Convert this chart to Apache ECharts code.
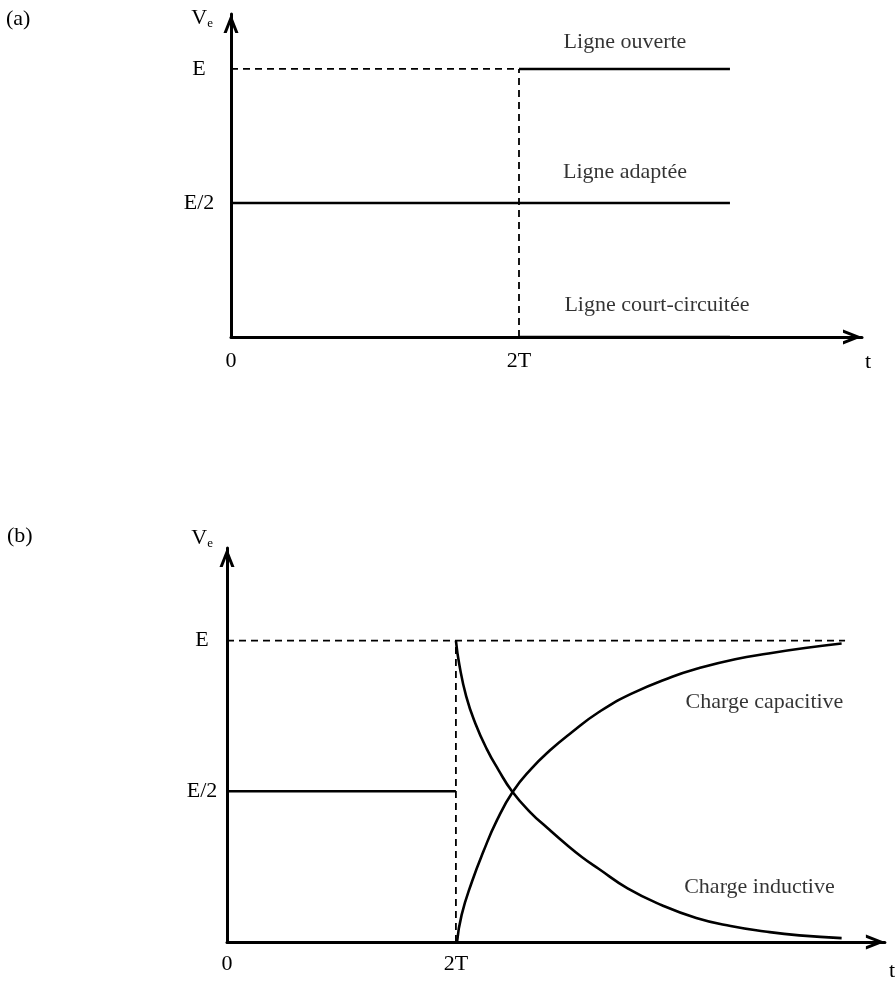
<!DOCTYPE html>
<html><head><meta charset="utf-8">
<script src="https://cdn.jsdelivr.net/npm/echarts@6/dist/echarts.min.js"></script>
<style>html,body{margin:0;padding:0;background:#fff}#c{width:896px;height:982px}</style>
</head><body><div id="c"></div>
<script>
// ---- Panel (a): t in units of T, V in units of E ----
const aOpenDashed = [[0, 1], [2, 1]];
const aOpenSolid = [[2, 1], [3.465, 1]];
const aAdapted = [[0, 0.5], [3.465, 0.5]];
const aShort = [[2, 0], [3.465, 0]];
const aStepDashed = [[2, 0], [2, 1]];
const aXTicks = [0, 2];
const aXTickLabels = ['0', '2T'];
const aYTicks = [0.5, 1];
const aYTickLabels = ['E/2', 'E'];
const aNotes = [[2.736, 1.101, 'Ligne ouverte'], [2.736, 0.616, 'Ligne adaptée'], [2.958, 0.119, 'Ligne court-circuitée']];

// ---- Panel (b) ----
const bEDashed = [[0, 1], [5.4, 1]];
const bStepDashed = [[2, 0], [2, 1]];
const bHalf = [[0, 0.5], [2, 0.5]];
const bCapacitive = [[2.01, 0], [2.05, 0.09], [2.14, 0.2], [2.24, 0.3], [2.36, 0.405], [2.5, 0.5], [2.66, 0.575], [2.82, 0.635], [3.01, 0.695], [3.25, 0.763], [3.53, 0.823], [3.89, 0.88], [4.12, 0.908], [4.44, 0.938], [4.73, 0.957], [5.05, 0.975], [5.37, 0.99]];
const bInductive = [[2.0, 1.0], [2.03, 0.92], [2.09, 0.815], [2.17, 0.725], [2.27, 0.64], [2.37, 0.572], [2.49, 0.5], [2.65, 0.43], [2.8, 0.378], [2.96, 0.325], [3.1, 0.282], [3.25, 0.242], [3.5, 0.178], [3.8, 0.122], [4.1, 0.08], [4.4, 0.053], [4.7, 0.035], [5.0, 0.022], [5.37, 0.013]];
const bXTicks = [0, 2];
const bXTickLabels = ['0', '2T'];
const bYTicks = [0.5, 1];
const bYTickLabels = ['E/2', 'E'];
const bNotes = [[4.696, 0.794, 'Charge capacitive'], [4.652, 0.183, 'Charge inductive']];

const FONT = "'Liberation Serif', 'Times New Roman', serif";
const FS = 22;
const ARROW = 'path://M7.5,0 L15,19 L11.8,19 L7.5,8.1 L3.2,19 L0,19 Z';

function axisLine() {
  return { show: true, onZero: false, symbol: ['none', ARROW], symbolSize: [15, 19], symbolOffset: [0, -9.5],
    lineStyle: { color: '#000', width: 3 } };
}
function fmt(ticks, labels) { return v => { const i = ticks.indexOf(Number(v)); return i >= 0 ? labels[i] : ''; }; }

function xAxis(grid, max, ticks, labels, margin, nameGap, namePad) {
  return { type: 'value', gridIndex: grid, min: 0, max: max, splitLine: { show: false },
    axisTick: { show: false }, axisLine: axisLine(),
    axisLabel: { customValues: ticks, formatter: fmt(ticks, labels), margin: margin, hideOverlap: false, color: '#000', fontFamily: FONT, fontSize: FS },
    name: 't', nameLocation: 'end', nameGap: nameGap,
    nameTextStyle: { color: '#000', fontFamily: FONT, fontSize: FS, align: 'left', verticalAlign: 'top', padding: [namePad, 0, 0, 0] } };
}
function yAxis(grid, max, ticks, labels, margin, nameGap, padRight) {
  return { type: 'value', gridIndex: grid, min: 0, max: max, splitLine: { show: false },
    axisTick: { show: false }, axisLine: axisLine(),
    axisLabel: { customValues: ticks, formatter: fmt(ticks, labels), margin: margin, align: 'center', hideOverlap: false, color: '#000', fontFamily: FONT, fontSize: FS },
    name: '{v|V}{s|e}', nameLocation: 'end', nameGap: nameGap,
    nameTextStyle: { align: 'right', verticalAlign: 'middle', padding: [0, padRight, 0, 0],
      rich: { v: { fontFamily: FONT, fontSize: 22, color: '#000' }, s: { fontFamily: FONT, fontSize: 13, color: '#000', padding: [12, 0, 0, 0] } } } };
}
function line(x, y, data, dashed, smooth) {
  return { type: 'line', xAxisIndex: x, yAxisIndex: y, data: data, showSymbol: false, symbol: 'none',
    smooth: smooth || false,
    lineStyle: { color: '#000', width: dashed ? 1.8 : 2.6, type: dashed ? [7, 5] : 'solid' }, z: 5 };
}
function notes(x, y, arr) {
  return { type: 'scatter', xAxisIndex: x, yAxisIndex: y, symbolSize: 0, silent: true,
    data: arr.map(n => ({ value: [n[0], n[1]], name: n[2] })),
    label: { show: true, position: 'inside', formatter: '{b}', color: '#000', fontFamily: FONT, fontSize: FS } };
}

const chart = echarts.init(document.getElementById('c'), null, { renderer: 'canvas' });
chart.setOption({
  animation: false,
  backgroundColor: '#fff',
  title: [
    { text: '(a)', left: 6, top: 8, padding: 0, textStyle: { fontFamily: FONT, fontSize: FS, fontWeight: 'normal', color: '#000' } },
    { text: '(b)', left: 7, top: 525, padding: 0, textStyle: { fontFamily: FONT, fontSize: FS, fontWeight: 'normal', color: '#000' } }
  ],
  grid: [
    { left: 231, top: 14, width: 631, height: 323 },
    { left: 227, top: 548, width: 661, height: 400 }
  ],
  xAxis: [
    xAxis(0, 4.382, aXTicks, aXTickLabels, 13, 3, 14),
    xAxis(1, 5.748, bXTicks, bXTickLabels, 11, 4, 18)
  ],
  yAxis: [
    yAxis(0, 1.205, aYTicks, aYTickLabels, 32, -4, 18),
    yAxis(1, 1.307, bYTicks, bYTickLabels, 25, 10, 14)
  ],
  series: [
    line(0, 0, aOpenDashed, true),
    line(0, 0, aStepDashed, true),
    line(0, 0, aOpenSolid, false),
    line(0, 0, aAdapted, false),
    line(0, 0, aShort, false),
    notes(0, 0, aNotes),
    line(1, 1, bEDashed, true),
    line(1, 1, bStepDashed, true),
    line(1, 1, bHalf, false),
    line(1, 1, bCapacitive, false, 0.5),
    line(1, 1, bInductive, false, 0.5),
    notes(1, 1, bNotes)
  ]
});
</script>
</body></html>
